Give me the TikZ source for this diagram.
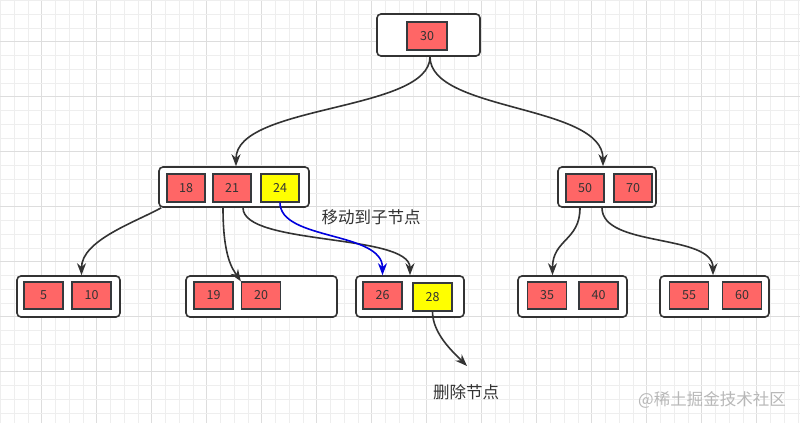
\documentclass[tikz,border=0pt]{standalone}
\usepackage{fontspec}
\setmainfont{Noto Sans CJK SC}
\usetikzlibrary{calc,arrows.meta}
\definecolor{keyred}{HTML}{FF6666}
\definecolor{keyyel}{HTML}{FFFF00}
\definecolor{edgec}{HTML}{333333}
\definecolor{keyline}{HTML}{36393D}
\definecolor{gridminor}{HTML}{EEEEEE}
\definecolor{gridmajor}{HTML}{DDDDDD}
\definecolor{wmark}{HTML}{B8B8B8}
\definecolor{moveblue}{HTML}{0000DD}
\begin{document}
\begin{tikzpicture}[x=1pt,y=-1pt,
  outerbox/.style={draw=edgec, line width=1.6pt, rounded corners=4pt, fill=white, minimum height=41pt, inner sep=0pt},
  keybox/.style={draw=keyline, line width=1.2pt, fill=keyred, minimum width=39pt, minimum height=27pt, inner sep=0pt, text=edgec, font=\fontsize{12.5}{14}\selectfont},
  yelbox/.style={keybox, fill=keyyel},
  conn/.style={draw=edgec, line width=1.6pt, -{Stealth[length=12pt,width=9pt]}},
  blueconn/.style={conn, draw=moveblue},
  lbl/.style={text=edgec, font=\fontsize{16.5}{18}\selectfont, inner sep=0pt},
  wm/.style={text=wmark, font=\fontsize{16.5}{18}\selectfont, inner sep=0pt}]
\useasboundingbox (0,0) rectangle (800,423);
\fill[white] (0,0) rectangle (800,423);
% grid
\foreach \k in {0,...,58} {
  \pgfmathsetmacro{\gx}{0.45+\k*13.75}
  \pgfmathtruncatemacro{\m}{mod(\k,4)}
  \ifnum\m=3
    \draw[gridmajor, line width=0.9pt] (\gx,0) -- (\gx,423);
  \else
    \draw[gridminor, line width=0.8pt] (\gx,0) -- (\gx,423);
  \fi
}
\foreach \k in {0,...,30} {
  \pgfmathsetmacro{\gy}{0.45+\k*13.75}
  \pgfmathtruncatemacro{\m}{mod(\k,4)}
  \ifnum\m=3
    \draw[gridmajor, line width=0.9pt] (0,\gy) -- (800,\gy);
  \else
    \draw[gridminor, line width=0.8pt] (0,\gy) -- (800,\gy);
  \fi
}
% root
\node[outerbox, minimum width=103pt, minimum height=42pt] (root) at (428.5,35) {};
\node[keybox, minimum width=40pt, minimum height=28pt] (k30) at (427,36) {30};
% level 2
\node[outerbox, minimum width=150pt, minimum height=40pt] (L) at (234,187) {};
\node[keybox, minimum width=38pt, minimum height=28pt] (k18) at (186,188) {18};
\node[keybox, minimum width=38pt, minimum height=28pt] (k21) at (232,188) {21};
\node[yelbox, minimum width=38pt, minimum height=28pt] (k24) at (280,188) {24};
\node[outerbox, minimum width=98pt, minimum height=40pt] (R) at (607,187) {};
\node[keybox, minimum width=38pt, minimum height=28pt] (k50) at (585,188) {50};
\node[keybox, minimum width=38pt, minimum height=28pt] (k70) at (633,188) {70};
% level 3
\node[outerbox, minimum width=103pt] (C1) at (68.5,296.5) {};
\node[keybox] (k5) at (43.5,295.5) {5};
\node[keybox] (k10) at (91.5,295.5) {10};
\node[outerbox, minimum width=151pt] (C2) at (261.5,296.5) {};
\node[keybox] (k19) at (213.5,295.5) {19};
\node[keybox] (k20) at (261,295.5) {20};
\node[outerbox, minimum width=108pt] (C3) at (410,296.5) {};
\node[keybox] (k26) at (382.5,295.5) {26};
\node[yelbox, minimum height=28pt] (k28) at (432.5,297) {28};
\node[outerbox, minimum width=109pt] (C4) at (572.5,296.5) {};
\node[keybox] (k35) at (547,295.5) {35};
\node[keybox] (k40) at (598.5,295.5) {40};
\node[outerbox, minimum width=109pt] (C5) at (714.5,296.5) {};
\node[keybox] (k55) at (689,295.5) {55};
\node[keybox] (k60) at (742,295.5) {60};
% labels
\node[lbl] (lblmove) at (371,217) {移动到子节点};
\node[lbl] (lbldel) at (466,392) {删除节点};
\node[wm] (wmk) at (712,400) {@稀土掘金技术社区};
\coordinate (delend) at (467,366);
% connectors
\draw[conn] ($(root.south)+(1.5,0)$) .. controls +(0,55) and +(0,-62) .. ($(L.north)+(2,0)$);
\draw[conn] ($(root.south)+(1.5,0)$) .. controls +(0,55) and +(0,-62) .. ($(R.north)+(-4,0)$);
\draw[conn] ($(L.south west)+(3,0)$) .. controls +(-25,14) and +(0,-35) .. ($(C1.north)+(13,0)$);
\draw[conn] ($(L.south)+(-11,0)$) .. controls +(0,50) and +(-8,-12) .. (k20.north west);
\draw[conn] ($(L.south)+(9,0)$) .. controls +(0,38) and +(0,-42) .. (C3.north);
\draw[blueconn] (k24.south) .. controls +(0,38) and +(0,-44) .. (k26.north |- C3.north);
\draw[conn] ($(R.south)+(-27,0)$) .. controls +(0,33) and +(0,-36) .. ($(C4.north)+(-20,0)$);
\draw[conn] ($(R.south)+(-5,0)$) .. controls +(0,40) and +(0,-42) .. ($(C5.north)+(-1.5,0)$);
\draw[conn] (k28.south) .. controls +(0,22) and +(-14,-14) .. (delend);
\end{tikzpicture}
\end{document}
